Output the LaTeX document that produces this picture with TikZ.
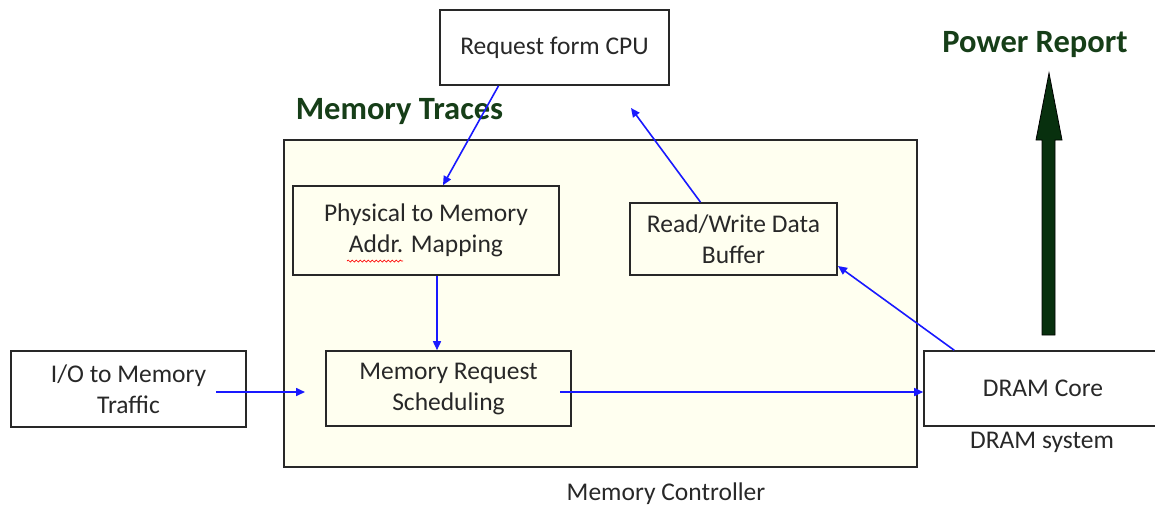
\documentclass[tikz,border=0pt]{standalone}
\usepackage{fontspec}
\setmainfont{Carlito}
\usetikzlibrary{arrows.meta,decorations.pathmorphing}
\definecolor{cream}{RGB}{255,255,240}
\definecolor{boxline}{RGB}{40,40,40}
\definecolor{txt}{RGB}{40,40,40}
\definecolor{flowblue}{RGB}{25,25,255}
\definecolor{headgreen}{RGB}{22,62,24}
\definecolor{powergreen}{RGB}{8,48,14}

\begin{document}
\begin{tikzpicture}[x=1pt,y=-1pt,
  blk/.style={draw=boxline,line width=1.6pt,fill=cream,inner sep=0pt,
    text=txt,align=center,font=\fontsize{25.5}{31}\selectfont},
  outer/.style={blk,fill=white},
  lbl/.style={text=txt,font=\fontsize{25.5}{28}\selectfont,inner sep=0pt},
  heading/.style={text=headgreen,font=\fontsize{32.5}{36}\selectfont\bfseries,inner sep=0pt},
  flow/.style={draw=flowblue,line width=1.6pt,-{Triangle[length=9pt,width=8pt]}}]
\useasboundingbox (0,0) rectangle (1155,507);
\fill[white] (0,0) rectangle (1155,507);

% memory controller frame
\node[blk,minimum width=633pt,minimum height=327pt] (mc) at (600.5,303.5) {};
\node[lbl] (mclbl) at (666,494) {Memory Controller};
\node[heading] (traces) at (399.5,112) {Memory Traces};

% blocks
\node[outer,minimum width=229pt,minimum height=75pt] (cpu) at (554.5,47.5) {Request form CPU};
\node[blk,minimum width=266pt,minimum height=89pt] (phys) at (426,230.5) {Physical to Memory\\Addr. Mapping};
\node[blk,minimum width=207pt,minimum height=72pt] (rw) at (733.5,239) {Read/Write Data\\Buffer};
\node[outer,minimum width=235pt,minimum height=76pt] (io) at (128.5,389) {I/O to Memory\\Traffic};
\node[blk,minimum width=245pt,minimum height=75pt] (sched) at (448.5,388.5) {Memory Request\\Scheduling};
\node[outer,minimum width=238pt,minimum height=75pt] (dram) at (1043,388.5) {DRAM Core};
\node[lbl] (dramlbl) at (1042,442) {DRAM system};

% spelling mark under the abbreviation
\draw[red,line width=0.7pt,decorate,decoration={snake,amplitude=1pt,segment length=4pt}]
  (347,261) -- (403,261);

% connector end points
\coordinate (cpuOut) at ([xshift=-56pt]cpu.south);
\coordinate (physIn) at ([xshift=17pt]phys.north);
\coordinate (rwOut) at ([xshift=-33pt]rw.north);
\coordinate (cpuIn) at (631,108);
\coordinate (physOut) at ([xshift=11pt]phys.south);
\coordinate (ioOut) at (216,392);
\coordinate (schedIn) at (305,392);
\coordinate (schedOut) at (560,392);
\coordinate (dramOut) at ([xshift=31pt]dram.north west);
\coordinate (rwIn) at (838,266);

\draw[flow] (cpuOut) -- (physIn);
\draw[flow] (rwOut) -- (cpuIn);
\draw[flow] (physOut) -- (physOut |- sched.north);
\draw[flow] (ioOut) -- (schedIn);
\draw[flow] (schedOut) -- (schedOut -| dram.west);
\draw[flow] (dramOut) -- (rwIn);

% power report arrow
\node[heading] (power) at (1035,45) {Power Report};
\draw[black,line width=0.8pt,fill=powergreen]
  (1042,335) -- (1042,140) -- (1036,140) -- (1049,73) -- (1062,140)
  -- (1055,140) -- (1055,335) -- cycle;
\end{tikzpicture}
\end{document}
